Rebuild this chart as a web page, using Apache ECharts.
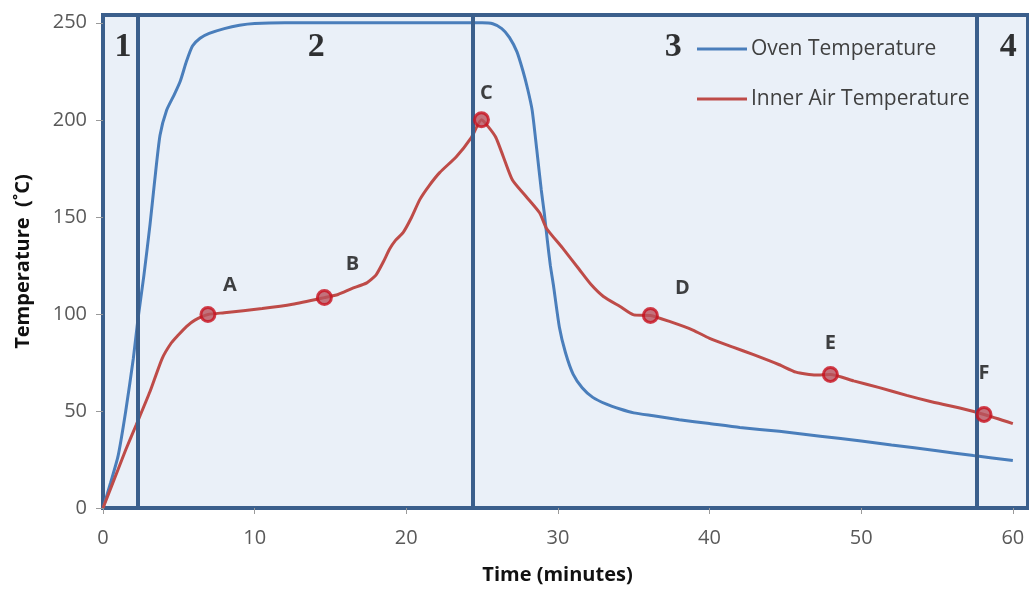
<!DOCTYPE html>
<html>
<head>
<meta charset="utf-8">
<script src="https://cdn.jsdelivr.net/npm/echarts@6/dist/echarts.min.js"></script>
<style>
html,body{margin:0;padding:0;background:#fff;}
#chart{width:1029px;height:590px;}
</style>
</head>
<body>
<div id="chart"></div>
<script>
// ---------- data ----------
const ovenTime = [0,0.5,1,1.5,2,2.3,2.7,3.1,3.4,3.76,4.2,4.7,5.1,5.5,5.9,6.4,7,8,9,10,12,15,20,25,25.7,26.3,26.8,27.3,27.7,28,28.3,28.6,28.9,29.1,29.3,29.5,29.7,30.1,30.5,31,31.6,32.3,33.2,34.1,35,36.3,38,40,42,44.6,47.3,50,52,55,57.4,60];
const ovenTemp = [0,13,27,50,77,97,120,146,168,192,205,213,220,230,238,242,244.5,247,248.7,249.6,250,250,250,250,249.5,247,242.5,235,225,216,205,185,164,152,138,125,115,93,80,69,62,57,53.5,51,49,47.5,45.5,43.5,41.5,39.5,37,34.5,32.5,29.5,27,24.5];

const airTime = [0,0.5,1,1.5,2.2,3.1,3.9,4.5,4.95,5.5,6.06,6.92,8,10.5,12.5,14.6,15.5,16.4,17.4,18,18.5,18.9,19.3,19.8,20.3,20.9,21.5,22.2,23.3,24.3,24.96,25.4,25.9,26.4,27,27.9,28.8,29.25,30.3,31.4,32.2,33,34.1,35,36.1,37.4,38.9,40,41.5,42.9,44.6,45.7,47,47.97,49.5,51.2,53,54.5,56.5,58.1,60];
const airTemp = [0,10,20,30,43,60,77,85,89,93.5,96.8,99.7,100.6,102.8,105,108.4,110,113,116,120,127,133.4,138,142,149,159,166,172.8,181,191,200,196.5,191,181,169,160.5,152,144,134,123,115,109,103.8,99.5,99.2,96,91.7,87.4,83,79,73.8,70,68.5,68.8,65.5,62,58,55,51.5,48.2,43.5];

const pointLabels = ['A','B','C','D','E','F'];
const pointTime = [6.92,14.6,24.96,36.1,47.97,58.1];
const pointTemp = [99.7,108.4,200,99.2,68.8,48.2];

const phaseNames = ['1','2','3','4'];
const phaseLabelTime = [1.32,14.06,37.6,59.7];
const phaseLabelTemp = 237.6;
const phaseBoundaries = [2.3,24.4,57.6];

const xTicks = [0,10,20,30,40,50,60];
const yTicks = [0,50,100,150,200,250];

const seriesNames = ['Oven Temperature','Inner Air Temperature'];

// ---------- style ----------
const FRAME = '#3b5f8c';
const BLUE = '#4a7ebb';
const RED = '#be4b48';
const FONT = 'Open Sans';
const labelOffsets = {A:[22,-29],B:[28,-33],C:[5,-27],D:[32,-27],E:[0,-31],F:[0,-41]};

const zip = (a,b) => a.map((v,i)=>[v,b[i]]);

const chart = echarts.init(document.getElementById('chart'), null, {renderer:'canvas'});
chart.setOption({
  animation:false,
  backgroundColor:'#ffffff',
  grid:{left:103,right:1,top:15,bottom:79,show:true,backgroundColor:'#eaf0f8',borderColor:FRAME,borderWidth:4,containLabel:false},
  legend:{
    data:seriesNames,
    orient:'vertical',
    left:692, top:33,
    itemWidth:50, itemHeight:3, itemGap:28,
    icon:'rect',
    textStyle:{fontFamily:FONT,fontSize:21,color:'#404040',lineHeight:22,padding:[0,0,0,-1]}
  },
  xAxis:{
    type:'value',min:0,max:61,interval:10,
    name:'Time (minutes)',nameLocation:'middle',nameGap:57,
    nameTextStyle:{fontFamily:FONT,fontSize:20,fontWeight:'bold',color:'#111',padding:[0,16,0,0]},
    axisLine:{show:false},
    axisTick:{show:true,length:6,customValues:xTicks,lineStyle:{color:'#9a9a9a'}},
    axisLabel:{customValues:xTicks,margin:20,fontFamily:FONT,fontSize:20,color:'#595959'},
    splitLine:{show:false}
  },
  yAxis:{
    type:'value',min:0,max:254,interval:50,
    name:'Temperature  (˚C)',nameLocation:'middle',nameGap:70,nameRotate:90,
    nameTextStyle:{fontFamily:FONT,fontSize:20,fontWeight:'bold',color:'#111'},
    axisLine:{show:false},
    axisTick:{show:true,length:7,customValues:yTicks,lineStyle:{color:'#9a9a9a'}},
    axisLabel:{customValues:yTicks,margin:16,fontFamily:FONT,fontSize:20,color:'#595959'},
    splitLine:{show:false}
  },
  series:[
    {
      name:seriesNames[0],type:'line',data:zip(ovenTime,ovenTemp),
      showSymbol:false,smooth:0.2,
      lineStyle:{color:BLUE,width:3},itemStyle:{color:BLUE},z:3,
      markLine:{
        silent:true,symbol:['none','none'],
        label:{show:false},
        lineStyle:{color:FRAME,width:4,type:'solid'},
        data:phaseBoundaries.map(v=>({xAxis:v}))
      }
    },
    {
      name:seriesNames[1],type:'line',data:zip(airTime,airTemp),
      showSymbol:false,smooth:0.2,
      lineStyle:{color:RED,width:3},itemStyle:{color:RED},z:3
    },
    {
      name:'Key points',type:'scatter',z:5,
      data:pointLabels.map((n,i)=>({name:n,value:[pointTime[i],pointTemp[i]],
        label:{offset:labelOffsets[n]}})),
      symbol:'circle',symbolSize:14,
      itemStyle:{color:'#b9525d',borderColor:'#c8101e',borderWidth:3},
      label:{show:true,position:'inside',formatter:'{b}',fontFamily:FONT,fontSize:20,fontWeight:'bold',color:'#111'}
    },
    {
      name:'Phases',type:'scatter',z:6,silent:true,
      data:phaseNames.map((n,i)=>({name:n,value:[phaseLabelTime[i],phaseLabelTemp]})),
      symbolSize:0,
      label:{show:true,position:'inside',formatter:'{b}',fontFamily:'Liberation Serif',fontSize:34,fontWeight:'bold',color:'#000'}
    }
  ]
});
</script>
</body>
</html>
